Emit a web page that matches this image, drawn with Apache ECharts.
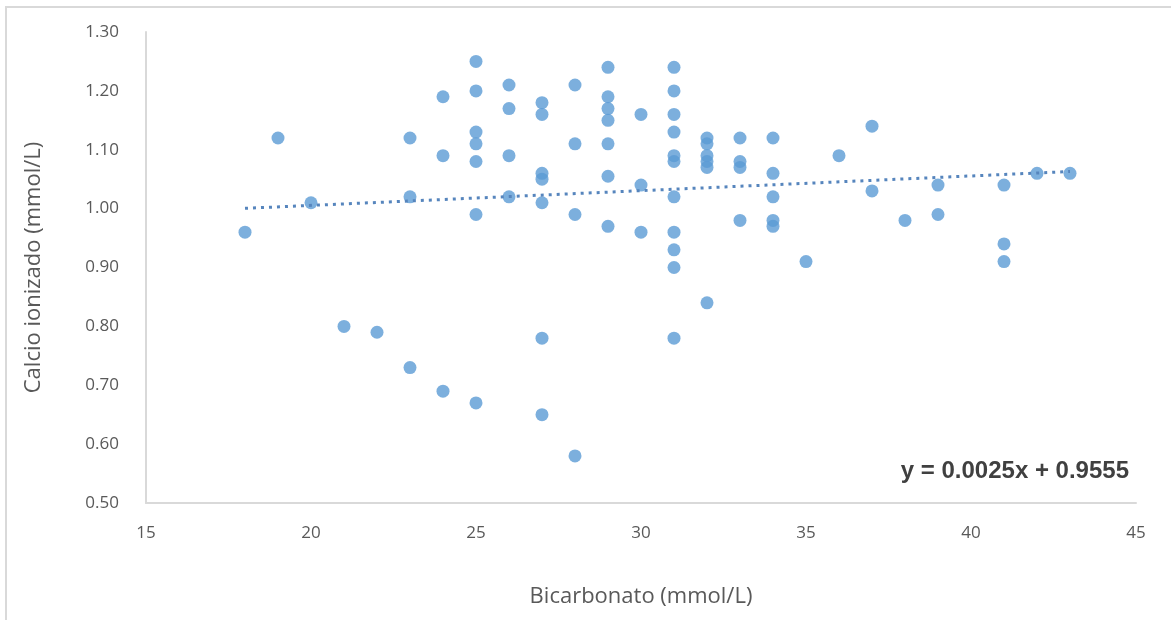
<!DOCTYPE html>
<html>
<head>
<meta charset="utf-8">
<script src="https://cdn.jsdelivr.net/npm/echarts@6/dist/echarts.min.js"></script>
<style>
html,body{margin:0;padding:0;background:#fff;}
#frame{position:absolute;left:5px;top:6px;width:1180px;height:630px;border:2px solid #d9d9d9;box-sizing:border-box;}
#chart{position:absolute;left:0;top:0;width:1171px;height:620px;}
</style>
</head>
<body>
<div id="frame"></div>
<div id="chart"></div>
<script>
// Bicarbonato (mmol/L)
const bicarbonato = [
  18, 19, 20, 21, 22,
  23, 23, 23,
  24, 24, 24,
  25, 25, 25, 25, 25, 25, 25,
  26, 26, 26, 26,
  27, 27, 27, 27, 27, 27, 27,
  28, 28, 28, 28,
  29, 29, 29, 29, 29, 29, 29,
  30, 30, 30,
  31, 31, 31, 31, 31, 31, 31, 31, 31, 31, 31,
  32, 32, 32, 32, 32, 32,
  33, 33, 33, 33,
  34, 34, 34, 34, 34,
  35, 36, 37, 37, 38, 39, 39,
  41, 41, 41, 42, 43
];
// Calcio ionizado (mmol/L)
const calcio = [
  0.96, 1.12, 1.01, 0.80, 0.79,
  1.12, 1.02, 0.73,
  1.19, 1.09, 0.69,
  1.25, 1.20, 1.13, 1.11, 1.08, 0.99, 0.67,
  1.21, 1.17, 1.09, 1.02,
  1.18, 1.16, 1.06, 1.05, 1.01, 0.78, 0.65,
  1.21, 1.11, 0.99, 0.58,
  1.24, 1.19, 1.17, 1.15, 1.11, 1.055, 0.97,
  1.16, 1.04, 0.96,
  1.24, 1.20, 1.16, 1.13, 1.09, 1.08, 1.02, 0.96, 0.93, 0.90, 0.78,
  1.12, 1.11, 1.09, 1.08, 1.07, 0.84,
  1.12, 1.08, 1.07, 0.98,
  1.12, 1.06, 1.02, 0.98, 0.97,
  0.91, 1.09, 1.14, 1.03, 0.98, 1.04, 0.99,
  1.04, 0.94, 0.91, 1.06, 1.06
];
// Trendline (Excel linear fit): y = 0.0025x + 0.9555
const trendX = [18, 43];
const trendY = [1.0005, 1.063];
const equationLabel = 'y = 0.0025x + 0.9555';
const xTicks = [15, 20, 25, 30, 35, 40, 45];
const yTicks = ['0.50','0.60','0.70','0.80','0.90','1.00','1.10','1.20','1.30'];

const points = bicarbonato.map((x, i) => [x, calcio[i]]);
const trend = trendX.map((x, i) => [x, trendY[i]]);

const chart = echarts.init(document.getElementById('chart'), null, {renderer: 'canvas'});
const font = '"Open Sans", Lato, sans-serif';
chart.setOption({
  animation: false,
  backgroundColor: 'transparent',
  grid: {left: 146, right: 35, top: 32, bottom: 117},
  xAxis: {
    type: 'value', min: 15, max: 45, interval: 5,
    name: 'Bicarbonato (mmol/L)', nameLocation: 'middle', nameGap: 83,
    nameTextStyle: {color: '#595959', fontSize: 22, fontFamily: font},
    axisLine: {show: true, lineStyle: {color: '#d9d9d9', width: 2}},
    axisTick: {show: false},
    splitLine: {show: false},
    axisLabel: {color: '#595959', fontSize: 17, fontFamily: font, margin: 22,
      formatter: v => String(v)}
  },
  yAxis: {
    type: 'value', min: 0.5, max: 1.3, interval: 0.1,
    name: 'Calcio ionizado (mmol/L)', nameLocation: 'middle', nameGap: 101, nameRotate: 90,
    nameTextStyle: {color: '#595959', fontSize: 22, fontFamily: font},
    axisLine: {show: true, lineStyle: {color: '#d9d9d9', width: 2}},
    axisTick: {show: false},
    splitLine: {show: false},
    axisLabel: {color: '#595959', fontSize: 17, fontFamily: font, margin: 27,
      formatter: v => yTicks[Math.round((v - 0.5) * 10)] || v.toFixed(2)}
  },
  series: [
    {
      type: 'scatter', data: points, symbol: 'circle', symbolSize: 13,
      itemStyle: {color: '#5b9bd5'}, z: 3
    },
    {
      type: 'line', data: trend, showSymbol: false, symbol: 'none',
      lineStyle: {color: '#5685bd', width: 3, type: [3, 5]}, z: 4
    }
  ],
  graphic: [{
    type: 'text', right: 42, top: 459,
    style: {text: equationLabel, fill: '#404040', font: 'bold 24px "Liberation Sans", Arial, sans-serif'}
  }]
});
</script>
</body>
</html>
